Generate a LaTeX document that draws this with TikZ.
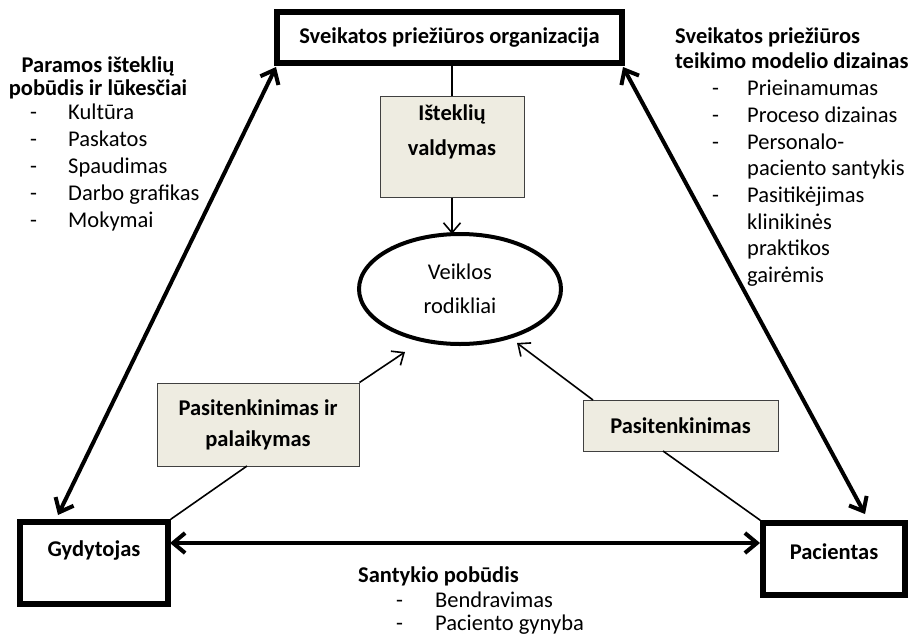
\documentclass[tikz,border=0pt]{standalone}
\usepackage{fontspec}
\setmainfont{Carlito}
\usetikzlibrary{arrows.meta,shapes.geometric}
\definecolor{tanbg}{HTML}{EEECE1}
\begin{document}
\begin{tikzpicture}[x=1pt,y=-1pt,
  txt/.style={font=\fontsize{22.5}{27}\selectfont, inner sep=0pt, align=left},
  btxt/.style={font=\fontsize{22.5}{24}\selectfont\bfseries, inner sep=0pt, align=center},
  bigbox/.style={draw, line width=5.5pt, rectangle, inner sep=0pt},
  greybox/.style={draw=black!75, fill=tanbg, line width=1pt, rectangle, inner sep=0pt},
  thinline/.style={line width=1.6pt},
  thinarrow/.style={line width=1.6pt, -{Straight Barb[length=10pt, width=17pt, line width=1.6pt]}},
  dblarrow/.style={line width=4pt, {Straight Barb[length=12pt, width=20pt, line width=4pt]}-{Straight Barb[length=12pt, width=20pt, line width=4pt]}}
]
\useasboundingbox (0,0) rectangle (909,640);

% main boxes
\node[bigbox, minimum width=345pt, minimum height=51pt, font=\fontsize{22.5}{24}\selectfont\bfseries] (org) at (449.5,37.5) {Sveikatos priežiūros organizacija};
\node[bigbox, minimum width=148pt, minimum height=82pt] (gyd) at (94,563) {};
\node[btxt] (gydt) at (94,550) {Gydytojas};
\node[bigbox, minimum width=142pt, minimum height=72pt] (pac) at (834,559) {};
\node[btxt] (pact) at (834,552) {Pacientas};

% grey boxes
\node[greybox, minimum width=144pt, minimum height=101pt] (ist) at (452,146.5) {};
\node[btxt, font=\fontsize{22.5}{35}\selectfont\bfseries] (istt) at (452,132) {Išteklių\\valdymas};
\node[greybox, minimum width=202pt, minimum height=83pt, font=\fontsize{22.5}{31}\selectfont\bfseries, align=center] (pp) at (258,424.5) {Pasitenkinimas ir\\palaikymas};
\node[greybox, minimum width=195pt, minimum height=51pt, font=\fontsize{22.5}{24}\selectfont\bfseries] (p) at (680.5,425.5) {Pasitenkinimas};

% ellipse
\node[ellipse, draw, line width=4pt, minimum width=202pt, minimum height=110pt, inner sep=0pt, align=center, font=\fontsize{22.5}{34}\selectfont] (perf) at (460,289) {Veiklos\\rodikliai};

% coordinates
\coordinate (lt) at (276,67);
\coordinate (lb) at (58,515);
\coordinate (rt) at (623,67);
\coordinate (rb) at (865,514);
\coordinate (hl) at (170,543);
\coordinate (hr) at (760,543);
\coordinate (ppb) at (247,466);
\coordinate (ppa) at (405,352);
\coordinate (pb) at (663,451);
\coordinate (pt) at (593,400);
\coordinate (pa) at (517,343);

% connectors
\draw[dblarrow] (lt) -- (lb);
\draw[dblarrow] (rt) -- (rb);
\draw[dblarrow] (hl) -- (hr);
\draw[thinline] (ist.north |- org.south) -- (ist.north);
\draw[thinarrow] (ist.south) -- (452,234);
\draw[thinline] (gyd.north east) -- (ppb);
\draw[thinarrow] (pp.north east) -- (ppa);
\draw[thinline] (pac.north west) -- (pb);
\draw[thinarrow] (pt) -- (pa);

% left annotations
\node[btxt, font=\fontsize{22.5}{23}\selectfont\bfseries] (lh) at (98,78) {Paramos išteklių\\pobūdis ir lūkesčiai};
\foreach \t [count=\i] in {Kultūra,Paskatos,Spaudimas,Darbo grafikas,Mokymai} {
  \node[txt, anchor=mid west] at (30,{117+(\i-1)*27}) {-};
  \node[txt, anchor=mid west] at (68,{117+(\i-1)*27}) {\t};
}

% right annotations
\node[btxt, anchor=mid west] at (675,41) {Sveikatos priežiūros};
\node[btxt, anchor=mid west] at (675,66) {teikimo modelio dizainas};
\foreach \y in {93,120,147,200} {
  \node[txt, anchor=mid west] at (712,\y) {-};
}
\foreach \t/\y in {Prieinamumas/93,Proceso dizainas/120,Personalo-/147,paciento santykis/173,Pasitikėjimas/200,klinikinės/227,praktikos/253,gairėmis/280} {
  \node[txt, anchor=mid west] at (747,\y) {\t};
}

% bottom annotations
\node[btxt, anchor=mid west] at (358,580) {Santykio pobūdis};
\node[txt, anchor=mid west] at (396,605) {-};
\node[txt, anchor=mid west] at (435,605) {Bendravimas};
\node[txt, anchor=mid west] at (396,628) {-};
\node[txt, anchor=mid west] at (435,628) {Paciento gynyba};
\end{tikzpicture}
\end{document}
